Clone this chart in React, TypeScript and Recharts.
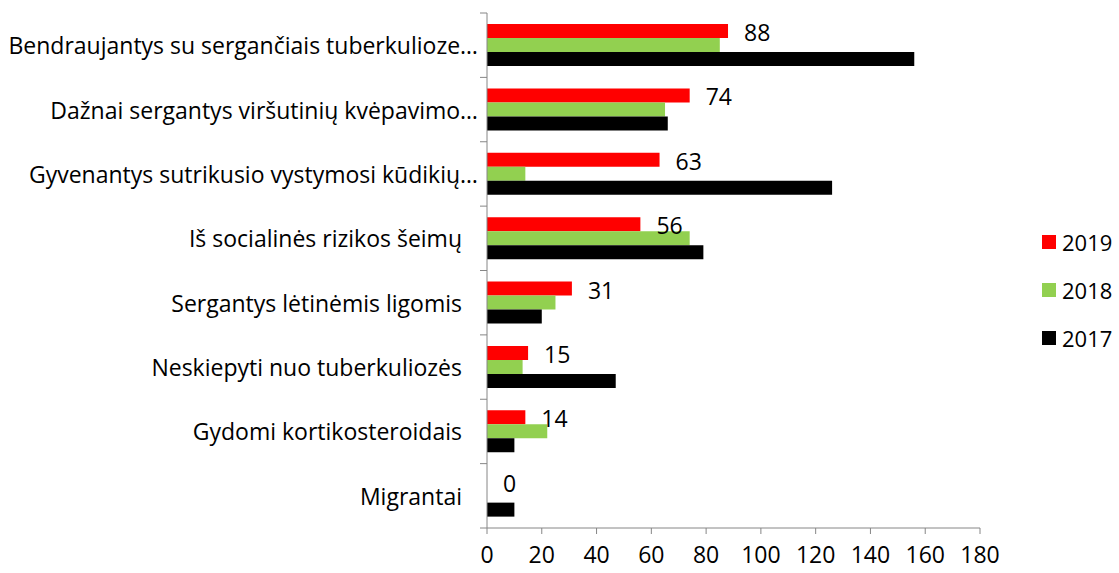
import { BarChart, Bar, XAxis, YAxis, LabelList } from "recharts"

const categories = [
  "Bendraujantys su sergančiais tuberkulioze…",
  "Dažnai sergantys viršutinių kvėpavimo…",
  "Gyvenantys sutrikusio vystymosi kūdikių…",
  "Iš socialinės rizikos šeimų",
  "Sergantys lėtinėmis ligomis",
  "Neskiepyti nuo tuberkuliozės",
  "Gydomi kortikosteroidais",
  "Migrantai",
]
const values2019 = [88, 74, 63, 56, 31, 15, 14, 0]
const values2018 = [85, 65, 14, 74, 25, 13, 22, 0]
const values2017 = [156, 66, 126, 79, 20, 47, 10, 10]
const xTicks = [0, 20, 40, 60, 80, 100, 120, 140, 160, 180]

const series = [
  { key: "y2019", name: "2019", color: "#FF0000" },
  { key: "y2018", name: "2018", color: "#92D050" },
  { key: "y2017", name: "2017", color: "#000000" },
]

const data = categories.map((name, i) => ({
  name,
  y2019: values2019[i],
  y2018: values2018[i],
  y2017: values2017[i],
}))

const W = 1119
const H = 573
const MARGIN = { top: 13, right: 139, left: 0, bottom: 0 }
const X_AXIS_H = 45
const PLOT_H = H - MARGIN.top - MARGIN.bottom - X_AXIS_H
const BAND = PLOT_H / categories.length
const FONT = "'Open Sans', sans-serif"
const FS = 23
const AXIS = "#868686"

function CategoryTick(props: any) {
  const { x, y, payload, index } = props
  const label = String(payload.value)
  // truncated labels reach closer to the axis
  const gap = label.endsWith("…") ? 9 : 25
  return (
    <g>
      <line x1={x - 7} x2={x} y1={y - BAND / 2} y2={y - BAND / 2} stroke={AXIS} />
      {index === categories.length - 1 && (
        <line x1={x - 7} x2={x} y1={y + BAND / 2} y2={y + BAND / 2} stroke={AXIS} />
      )}
      <text x={x - gap} y={y} textAnchor="end" dominantBaseline="central" fontSize={FS} fill="#000" fontFamily={FONT}>
        {label}
      </text>
    </g>
  )
}

// value label to the right of the bar, drawn also for zero-length bars
function ValueLabel(props: any) {
  const { x, y, width, height, value } = props
  return (
    <text
      x={Number(x) + Number(width || 0) + 16}
      y={Number(y) + Number(height) / 2 + 1}
      dominantBaseline="central"
      fontSize={FS}
      fill="#000"
      fontFamily={FONT}
    >
      {value}
    </text>
  )
}

export default function App() {
  return (
    <div
      style={{
        position: "absolute",
        left: 0,
        top: 0,
        width: W,
        height: H,
        overflow: "hidden",
        fontFamily: FONT,
        background: "#fff",
      }}
    >
      <BarChart width={W} height={H} data={data} layout="vertical" margin={MARGIN} barGap={0} barSize={14}>
        <XAxis
          type="number"
          domain={[0, 180]}
          ticks={xTicks}
          height={X_AXIS_H}
          axisLine={{ stroke: AXIS }}
          tickLine={{ stroke: AXIS }}
          tickSize={6}
          tickMargin={13}
          tick={{ fill: "#000", fontSize: FS, fontFamily: FONT }}
        />
        <YAxis
          type="category"
          dataKey="name"
          width={487}
          axisLine={{ stroke: AXIS }}
          tickLine={false}
          tickSize={0}
          tickMargin={0}
          interval={0}
          tick={<CategoryTick />}
        />
        {series.map((s) => (
          <Bar
            key={s.key}
            dataKey={s.key}
            name={s.name}
            fill={s.color}
            minPointSize={s.key === "y2019" ? 0.01 : 0}
            isAnimationActive={false}
          >
            {s.key === "y2019" && <LabelList dataKey={s.key} content={<ValueLabel />} />}
          </Bar>
        ))}
      </BarChart>
      <div style={{ position: "absolute", left: 1042, top: 218, whiteSpace: "nowrap" }}>
        {series.map((s) => (
          <div key={s.key} style={{ display: "flex", alignItems: "center", height: 48, fontSize: 22 }}>
            <span style={{ width: 14, height: 14, background: s.color, marginRight: 6, display: "inline-block" }} />
            <span>{s.name}</span>
          </div>
        ))}
      </div>
    </div>
  )
}
